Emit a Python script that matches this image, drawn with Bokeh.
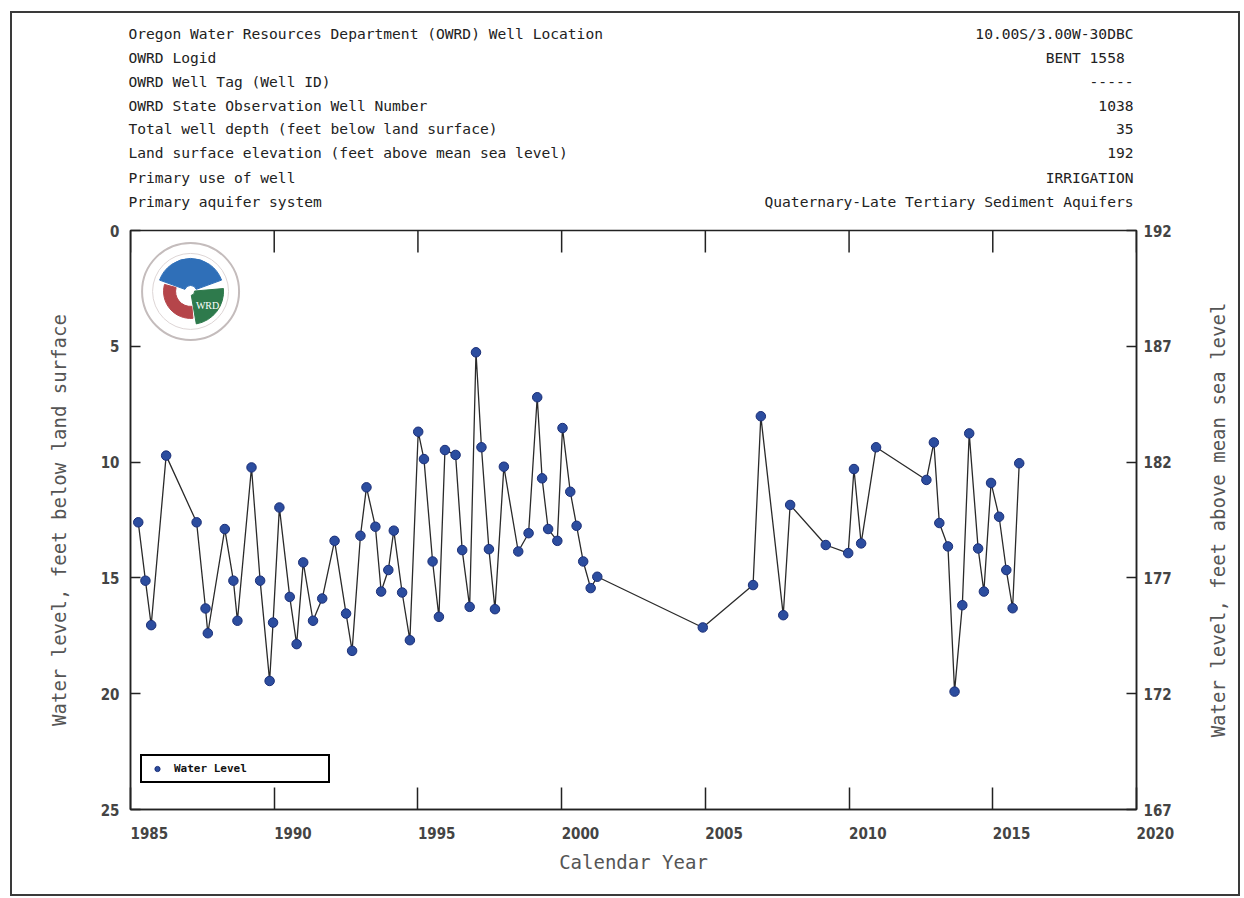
import math
from bokeh.plotting import figure
from bokeh.layouts import column, row
from bokeh.models import (Range1d, LinearAxis, FixedTicker, Legend, LegendItem,
                          ColumnDataSource)
from bokeh.core.properties import value
from bokeh.embed import file_html
from bokeh.resources import INLINE

# ---------------- data ----------------
years = [1985.27, 1985.52, 1985.72, 1986.24, 1987.30, 1987.61, 1987.69, 1988.28, 1988.58,
         1988.72, 1989.21, 1989.51, 1989.84, 1989.96, 1990.18, 1990.54, 1990.78, 1991.01,
         1991.35, 1991.67, 1992.10, 1992.50, 1992.71, 1993.00, 1993.21, 1993.52, 1993.72,
         1993.97, 1994.16, 1994.45, 1994.72, 1995.01, 1995.21, 1995.51, 1995.73, 1995.94,
         1996.31, 1996.54, 1996.80, 1997.02, 1997.21, 1997.47, 1997.68, 1997.99, 1998.49,
         1998.85, 1999.15, 1999.32, 1999.53, 1999.85, 2000.03, 2000.30, 2000.52, 2000.75,
         2001.01, 2001.24, 2004.91, 2006.66, 2006.93, 2007.71, 2007.95, 2009.19, 2009.97,
         2010.17, 2010.42, 2010.94, 2012.69, 2012.95, 2013.14, 2013.44, 2013.67, 2013.94,
         2014.18, 2014.49, 2014.69, 2014.94, 2015.22, 2015.47, 2015.69, 2015.92]
depth_ft = [12.6, 15.12, 17.04, 9.72, 12.6, 16.32, 17.39, 12.89, 15.12,
            16.85, 10.23, 15.12, 19.45, 16.93, 11.96, 15.82, 17.86, 14.33,
            16.85, 15.89, 13.4, 16.54, 18.15, 13.18, 11.09, 12.79, 15.59,
            14.66, 12.96, 15.63, 17.69, 8.69, 9.87, 14.29, 16.68, 9.48,
            9.69, 13.8, 16.25, 5.26, 9.36, 13.76, 16.35, 10.2, 13.86,
            13.07, 7.2, 10.7, 12.89, 13.4, 8.53, 11.28, 12.75, 14.29,
            15.44, 14.95, 17.14, 15.31, 8.02, 16.61, 11.85, 13.58, 13.93,
            10.3, 13.51, 9.36, 10.77, 9.15, 12.63, 13.64, 19.91, 16.18,
            8.76, 13.73, 15.59, 10.9, 12.36, 14.66, 16.31, 10.05]

x_ticks = [1985, 1990, 1995, 2000, 2005, 2010, 2015, 2020]
depth_ticks = [0, 5, 10, 15, 20, 25]
elev_ticks = [167, 172, 177, 182, 187, 192]

header_left = ["Oregon Water Resources Department (OWRD) Well Location",
               "OWRD Logid",
               "OWRD Well Tag (Well ID)",
               "OWRD State Observation Well Number",
               "Total well depth (feet below land surface)",
               "Land surface elevation (feet above mean sea level)",
               "Primary use of well",
               "Primary aquifer system"]
header_right = ["10.00S/3.00W-30DBC",
                "BENT  1558",
                "-----",
                "1038",
                "35",
                "192",
                "IRRIGATION",
                "Quaternary-Late Tertiary Sediment Aquifers"]
right_label = "Water level, feet above mean sea level"

# ---------------- layout / style constants ----------------
MONO = "DejaVu Sans Mono"
TICKF = "DejaVu Sans Condensed"
W = 1226
SIDE_W = 42
HEAD_H = 209
MAIN_H = 672
HEAD_LINE_Y = [20, 44, 68, 92, 115, 139, 164, 188]   # px from header top
HEAD_LEFT_X, HEAD_RIGHT_X = 116, 1121                # px from header left
LOGO_X, LOGO_Y = 1987.09, 2.63                        # decorative emblem anchor

# ---------------- header ----------------
head = figure(width=W, height=HEAD_H, output_backend="svg", toolbar_location=None,
              x_range=Range1d(0, W), y_range=Range1d(HEAD_H, 0),
              x_axis_type=None, y_axis_type=None, min_border=0,
              outline_line_color=None, background_fill_color="white",
              border_fill_color="white")
head.grid.visible = False
n = len(header_left)
head.text([HEAD_LEFT_X] * n, HEAD_LINE_Y, text=header_left,
          text_font=value(MONO), text_font_size="14.6px", text_color="#222222",
          text_align="left", text_baseline="middle")
head.text([HEAD_RIGHT_X] * n, HEAD_LINE_Y, text=header_right,
          text_font=value(MONO), text_font_size="14.6px", text_color="#222222",
          text_align="right", text_baseline="middle")

# ---------------- main plot ----------------
p = figure(width=W - SIDE_W, height=MAIN_H, output_backend="svg", toolbar_location=None,
           x_range=Range1d(1985, 2020), y_range=Range1d(25, 0),
           min_border_left=118, min_border_right=102 - SIDE_W, min_border_top=8,
           min_border_bottom=85, background_fill_color="white",
           border_fill_color="white")
p.grid.visible = False
p.outline_line_color = "#222222"
p.outline_line_width = 1.5

p.extra_y_ranges = {"elev": Range1d(167, 192)}

ax = p.yaxis[0]
ax.ticker = FixedTicker(ticks=depth_ticks)
ax.axis_label = "Water level, feet below land surface"
bx = p.xaxis[0]
bx.ticker = FixedTicker(ticks=x_ticks)
bx.axis_label = "Calendar Year"

right = LinearAxis(y_range_name="elev", ticker=FixedTicker(ticks=elev_ticks))
p.add_layout(right, "right")

for a in [ax, bx, right]:
    a.axis_line_color = "#222222"
    a.axis_line_width = 1.5
    a.major_tick_line_color = "#222222"
    a.major_tick_line_width = 1.5
    a.minor_tick_line_color = None
    a.major_tick_out = 0
    a.major_label_text_font = TICKF
    a.major_label_text_font_style = "bold"
    a.major_label_text_font_size = "15px"
    a.major_label_text_color = "#444444"
    a.axis_label_text_font = MONO
    a.axis_label_text_font_size = "19px"
    a.axis_label_text_font_style = "normal"
    a.axis_label_text_color = "#555555"

ax.major_tick_in = 10
right.major_tick_in = 10
bx.major_tick_in = 22
bx.major_label_orientation = -1e-6
bx.major_label_standoff = 23
bx.axis_label_standoff = 3

ax.major_label_standoff = 11
ax.axis_label_standoff = 28
right.major_label_standoff = 7

# top-edge tick marks (half of each dash falls outside the frame and is clipped)
p.scatter(x_ticks, [0] * len(x_ticks), marker="dash", size=44, angle=math.pi / 2,
          line_color="#222222", line_width=1.5)

# ---------- emblem (decorative) ----------
p.scatter([LOGO_X], [LOGO_Y], size=97, marker="circle", fill_color="white",
          line_color="#c4bcbc", line_width=2)
p.scatter([LOGO_X], [LOGO_Y], size=76, marker="circle", fill_color=None,
          line_color="#ddd5d5", line_width=1)
p.annular_wedge([LOGO_X], [LOGO_Y], inner_radius=6, outer_radius=33,
                inner_radius_units="screen", outer_radius_units="screen",
                start_angle=math.radians(20), end_angle=math.radians(160),
                fill_color="#2f6fb8", line_color="#2f6fb8")
p.annular_wedge([LOGO_X], [LOGO_Y], inner_radius=15, outer_radius=27,
                inner_radius_units="screen", outer_radius_units="screen",
                start_angle=math.radians(165), end_angle=math.radians(275),
                fill_color="#b5454a", line_color="#b5454a")
p.annular_wedge([LOGO_X], [LOGO_Y], inner_radius=4, outer_radius=33,
                inner_radius_units="screen", outer_radius_units="screen",
                start_angle=math.radians(-80), end_angle=math.radians(5),
                fill_color="#2e7a4c", line_color="#2e7a4c")
p.text([LOGO_X], [LOGO_Y], text=["WRD"], x_offset=17, y_offset=14,
       text_font=value("Liberation Serif"), text_font_size="10px",
       text_color="white", text_align="center", text_baseline="middle")

# ---------- data ----------
src = ColumnDataSource(dict(x=years, y=depth_ft))
p.line("x", "y", source=src, line_color="#2a2a2a", line_width=1.3)
pts = p.scatter("x", "y", source=src, marker="circle", size=9.5,
                fill_color="#2c4d9f", line_color="#1b2f78", line_width=1)

legend = Legend(items=[LegendItem(label="Water Level", renderers=[pts])],
                location=(10, 26), orientation="vertical",
                border_line_color="black", border_line_width=2, border_line_alpha=1,
                background_fill_color="white", background_fill_alpha=1,
                label_text_font=MONO, label_text_font_size="11px",
                label_text_font_style="bold", label_text_color="#111111",
                glyph_width=18, glyph_height=13, label_height=13,
                label_width=148, label_standoff=8, padding=6, margin=0,
                spacing=0)
p.add_layout(legend, "center")

# ---------- right-hand axis title (reads bottom-to-top) ----------
side = figure(width=SIDE_W, height=MAIN_H, output_backend="svg", toolbar_location=None,
              x_range=Range1d(0, 1), y_range=Range1d(0, 1),
              x_axis_type=None, y_axis_type=None, min_border=0,
              outline_line_color=None, background_fill_color="white",
              border_fill_color="white")
side.grid.visible = False
side.text([0.5], [0.5], text=[right_label], angle=math.pi / 2,
          text_font=value(MONO), text_font_size="19px", text_color="#555555",
          text_align="center", text_baseline="middle")

layout = column(head, row(p, side, spacing=0), spacing=0,
                styles={"border": "2px solid #3a3a3a", "margin-left": "10px",
                        "margin-top": "11px"})

open("out.html", "w").write(file_html(layout, INLINE))
